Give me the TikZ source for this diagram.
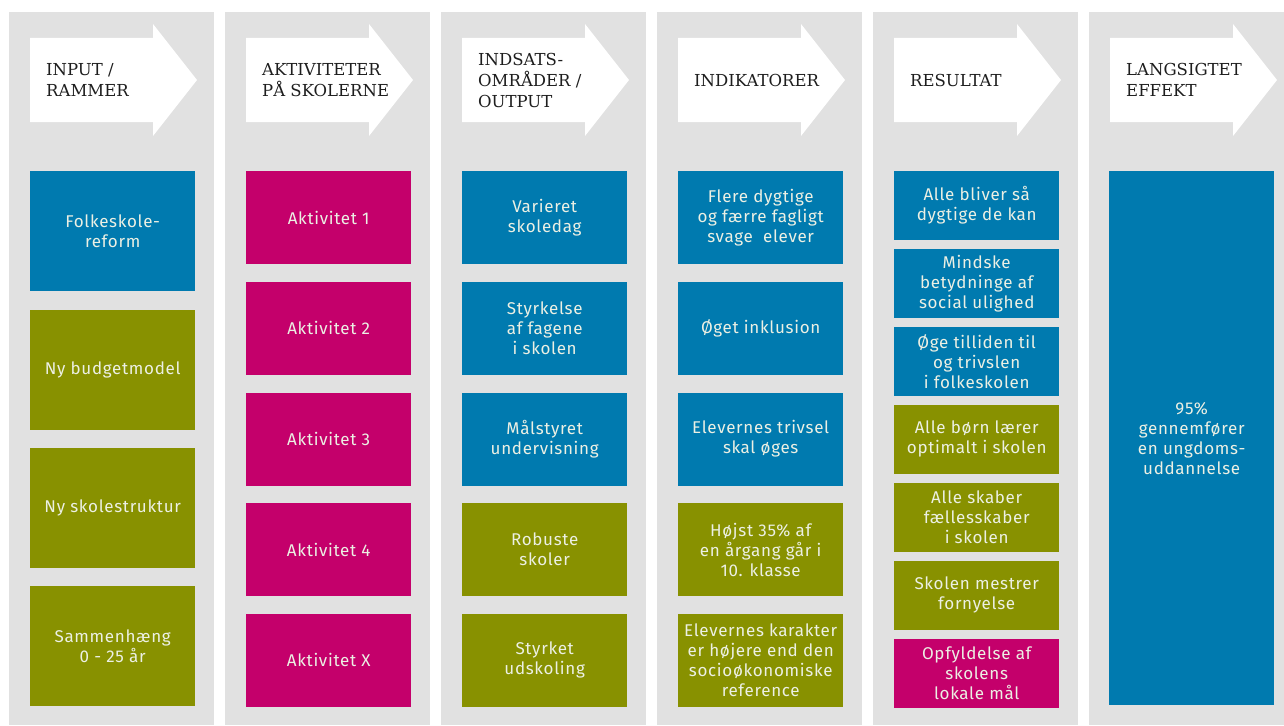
\documentclass[tikz,border=0pt]{standalone}
\usepackage{fontspec}
\setmainfont{Fira Sans}[LetterSpace=4]
\newfontfamily\headfont{DejaVu Serif}
\usetikzlibrary{positioning}

\definecolor{panelgray}{RGB}{225,225,225}
\definecolor{fkblue}{RGB}{0,122,175}
\definecolor{fkolive}{RGB}{136,145,0}
\definecolor{fkmagenta}{RGB}{196,0,107}
\definecolor{boxtext}{RGB}{236,240,228}
\definecolor{headtext}{RGB}{30,30,30}

\tikzstyle{panel} = [rectangle, fill=panelgray, minimum width=205pt,
minimum height=713pt, inner sep=0pt, anchor=north west]
\tikzstyle{banner} = [fill=white]
\tikzstyle{heading} = [anchor=west, align=left, inner sep=0pt, text=headtext,
font=\headfont\fontsize{16.5}{21}\selectfont]
\tikzstyle{box} = [rectangle, minimum width=165pt, inner sep=0pt,
align=center, text=boxtext, font=\fontsize{17}{20}\selectfont]
\tikzstyle{bigbox} = [box, minimum height=120pt]
\tikzstyle{midbox} = [box, minimum height=93pt]
\tikzstyle{smallbox} = [box, minimum height=69pt]
\tikzstyle{longbox} = [box, minimum height=534pt]

\begin{document}
\begin{tikzpicture}[x=1pt, y=-1pt]
    \useasboundingbox (0,0) rectangle (1284,725);

    % columns
    \node (col1) [panel] at (9,12) {};
    \node (col2) [panel, right=10.6pt of col1] {};
    \node (col3) [panel, right=10.6pt of col2] {};
    \node (col4) [panel, right=10.6pt of col3] {};
    \node (col5) [panel, right=10.6pt of col4] {};
    \node (col6) [panel, right=10.6pt of col5] {};

    % heading arrows
    \fill [banner] ([shift={(21,26)}]col1.north west) -- ++(123,0) -- ++(0,-14) -- ++(44,56) -- ++(-44,56) -- ++(0,-14) -- ++(-123,0) -- cycle;
    \fill [banner] ([shift={(21,26)}]col2.north west) -- ++(123,0) -- ++(0,-14) -- ++(44,56) -- ++(-44,56) -- ++(0,-14) -- ++(-123,0) -- cycle;
    \fill [banner] ([shift={(21,26)}]col3.north west) -- ++(123,0) -- ++(0,-14) -- ++(44,56) -- ++(-44,56) -- ++(0,-14) -- ++(-123,0) -- cycle;
    \fill [banner] ([shift={(21,26)}]col4.north west) -- ++(123,0) -- ++(0,-14) -- ++(44,56) -- ++(-44,56) -- ++(0,-14) -- ++(-123,0) -- cycle;
    \fill [banner] ([shift={(21,26)}]col5.north west) -- ++(123,0) -- ++(0,-14) -- ++(44,56) -- ++(-44,56) -- ++(0,-14) -- ++(-123,0) -- cycle;
    \fill [banner] ([shift={(21,26)}]col6.north west) -- ++(123,0) -- ++(0,-14) -- ++(44,56) -- ++(-44,56) -- ++(0,-14) -- ++(-123,0) -- cycle;

    % headings
    \node (hd1) [heading] at ([shift={(37,68)}]col1.north west) {INPUT /\\RAMMER};
    \node (hd2) [heading] at ([shift={(37,68)}]col2.north west) {AKTIVITETER\\PÅ SKOLERNE};
    \node (hd3) [heading] at ([shift={(37,68)}]col3.north west) {INDSATS-\\OMRÅDER /\\OUTPUT};
    \node (hd4) [heading] at ([shift={(37,68)}]col4.north west) {INDIKATORER};
    \node (hd5) [heading] at ([shift={(37,68)}]col5.north west) {RESULTAT};
    \node (hd6) [heading] at ([shift={(37,68)}]col6.north west) {LANGSIGTET\\EFFEKT};

    % input / rammer
    \node (in1) [bigbox, fill=fkblue, anchor=north west] at ([shift={(21,159)}]col1.north west) {Folkeskole-\\reform};
    \node (in2) [bigbox, fill=fkolive, below=18pt of in1] {Ny budgetmodel};
    \node (in3) [bigbox, fill=fkolive, below=18pt of in2] {Ny skolestruktur};
    \node (in4) [bigbox, fill=fkolive, below=18pt of in3] {Sammenhæng\\0 - 25 år};

    % aktiviteter
    \node (act1) [midbox, fill=fkmagenta, anchor=north west] at ([shift={(21,159)}]col2.north west) {Aktivitet 1};
    \node (act2) [midbox, fill=fkmagenta, below=17.25pt of act1] {Aktivitet 2};
    \node (act3) [midbox, fill=fkmagenta, below=17.25pt of act2] {Aktivitet 3};
    \node (act4) [midbox, fill=fkmagenta, below=17.25pt of act3] {Aktivitet 4};
    \node (act5) [midbox, fill=fkmagenta, below=17.25pt of act4] {Aktivitet X};

    % indsatsomraader
    \node (out1) [midbox, fill=fkblue, anchor=north west] at ([shift={(21,159)}]col3.north west) {Varieret\\skoledag};
    \node (out2) [midbox, fill=fkblue, below=17.25pt of out1] {Styrkelse\\af fagene\\i skolen};
    \node (out3) [midbox, fill=fkblue, below=17.25pt of out2] {Målstyret\\undervisning};
    \node (out4) [midbox, fill=fkolive, below=17.25pt of out3] {Robuste\\skoler};
    \node (out5) [midbox, fill=fkolive, below=17.25pt of out4] {Styrket\\udskoling};

    % indikatorer
    \node (ind1) [midbox, fill=fkblue, anchor=north west] at ([shift={(21,159)}]col4.north west) {Flere dygtige\\og færre fagligt\\svage\ \ elever};
    \node (ind2) [midbox, fill=fkblue, below=17.25pt of ind1] {Øget inklusion};
    \node (ind3) [midbox, fill=fkblue, below=17.25pt of ind2] {Elevernes trivsel\\skal øges};
    \node (ind4) [midbox, fill=fkolive, below=17.25pt of ind3] {Højst 35\% af\\en årgang går i\\10. klasse};
    \node (ind5) [midbox, fill=fkolive, below=17.25pt of ind4] {Elevernes karakter\\er højere end den\\socioøkonomiske\\reference};

    % resultat
    \node (res1) [smallbox, fill=fkblue, anchor=north west] at ([shift={(21,159)}]col5.north west) {Alle bliver så\\dygtige de kan};
    \node (res2) [smallbox, fill=fkblue, below=8.5pt of res1] {Mindske\\betydninge af\\social ulighed};
    \node (res3) [smallbox, fill=fkblue, below=8.5pt of res2] {Øge tilliden til\\og trivslen\\i folkeskolen};
    \node (res4) [smallbox, fill=fkolive, below=8.5pt of res3] {Alle børn lærer\\optimalt i skolen};
    \node (res5) [smallbox, fill=fkolive, below=8.5pt of res4] {Alle skaber\\fællesskaber\\i skolen};
    \node (res6) [smallbox, fill=fkolive, below=8.5pt of res5] {Skolen mestrer\\fornyelse};
    \node (res7) [smallbox, fill=fkmagenta, below=8.5pt of res6] {Opfyldelse af\\skolens\\lokale mål};

    % langsigtet effekt
    \node (eff1) [longbox, fill=fkblue, anchor=north west] at ([shift={(20,159)}]col6.north west) {95\%\\gennemfører\\en ungdoms-\\uddannelse};
\end{tikzpicture}
\end{document}
